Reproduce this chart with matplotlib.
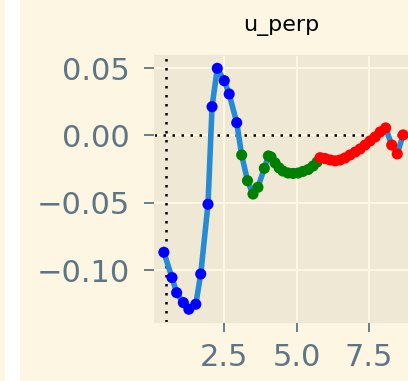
import matplotlib
matplotlib.use('Agg')
import matplotlib.pyplot as plt
from matplotlib.patches import Rectangle

# perpendicular velocity samples, with the phase each sample belongs to
t = [0.43, 0.71, 0.87, 1.10, 1.29, 1.53, 1.70, 1.95, 2.09, 2.27, 2.51, 2.68, 2.94,
     3.11, 3.31, 3.50, 3.67, 3.89, 4.03, 4.12, 4.26, 4.40, 4.53, 4.71, 4.88, 5.05,
     5.22, 5.40, 5.57, 5.71,
     5.81, 5.98, 6.16, 6.33, 6.50, 6.67, 6.84, 7.02, 7.19, 7.36, 7.53, 7.71, 7.88,
     8.07, 8.28, 8.47, 8.67]
u_perp = [-0.0868, -0.1056, -0.1168, -0.1242, -0.1291, -0.1254, -0.1029, -0.0511,
          0.0214, 0.0499, 0.0407, 0.0308, 0.0095,
          -0.0145, -0.0336, -0.0435, -0.0385, -0.0244, -0.0152, -0.0160, -0.0204,
          -0.0241, -0.0264, -0.0279, -0.0282, -0.0279, -0.0267, -0.0253, -0.0227,
          -0.0197,
          -0.0165, -0.0171, -0.0182, -0.0189, -0.0182, -0.0167, -0.0145, -0.0123,
          -0.0100, -0.0071, -0.0041, -0.0011, 0.0026, 0.0056, -0.0071, -0.0137, 0.0004]
phase = ['b'] * 13 + ['g'] * 17 + ['r'] * 17
t_start = 0.52

plt.style.use('Solarize_Light2')
fig = plt.figure(figsize=(4.08, 3.81), dpi=100)
# gap between panels
fig.patches.append(Rectangle((5 / 408, 0), 15 / 408, 1, transform=fig.transFigure,
                             facecolor='white', edgecolor='none'))
ax = fig.add_axes([154 / 408, 59 / 381, 254 / 408, 267 / 381])

ax.plot(t, u_perp, color='#268bd2', lw=4, zorder=2)
ax.scatter(t, u_perp, c=phase, s=64, zorder=3, edgecolors='none')
ax.axhline(0, color='k', ls=(0, (1, 2.6)), lw=1.8, zorder=1.5)
ax.axvline(t_start, color='k', ls=(0, (1, 2.6)), lw=1.8, zorder=1.5)

ax.set_xlim(0.09, 8.84)
ax.set_ylim(-0.1386, 0.0598)
ax.set_xticks([2.5, 5.0, 7.5])
ax.set_yticks([-0.10, -0.05, 0.00, 0.05])
ax.grid(True, color='#fdf6e3', lw=1.5)
ax.tick_params(axis='both', labelsize=22, length=7, width=1.3, colors='#5d7584')
ax.tick_params(axis='y', pad=10.5)
ax.tick_params(axis='x', pad=8)
ax.set_title('u_perp', fontsize=16, color='black', pad=17)

fig.savefig('out.png', dpi=100)
